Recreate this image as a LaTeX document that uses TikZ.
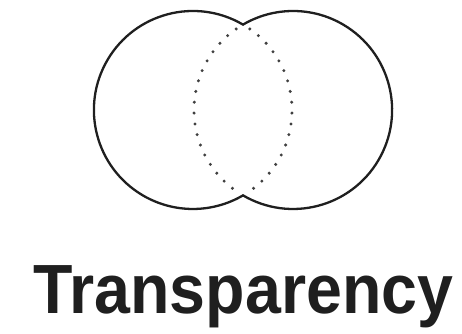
\documentclass[tikz,border=0pt]{standalone}
\usepackage{fontspec}
\setmainfont{Liberation Sans}
\begin{document}
\begin{tikzpicture}[x=1pt,y=1pt,
  outline/.style={line width=2.3pt,draw=black!88},
  lens/.style={line width=3.3pt,draw=black!75,line cap=round,dash pattern=on 0pt off 10.9pt},
  title/.style={anchor=base,inner sep=0pt,text=black!88,font=\fontsize{64.5}{70}\selectfont\bfseries}]
\useasboundingbox (0,0) rectangle (462,333);
\coordinate (cl) at (193,223);
\coordinate (cr) at (293,223);
\coordinate (top) at (243,308.4);
\coordinate (bot) at (243,137.6);
% outer outline of union
\draw[outline] (top) arc[start angle=59.6,end angle=300.4,radius=99]
  arc[start angle=239.6,end angle=480.4,radius=99] -- cycle;
% dotted lens
\draw[lens] ([shift={(55:99)}]cl) arc[start angle=55,end angle=-55,radius=99];
\draw[lens] ([shift={(125:99)}]cr) arc[start angle=125,end angle=235,radius=99];
\node[title] (t) at (243.5,20) {\scalebox{1}[1.08]{Transparency}};
\end{tikzpicture}
\end{document}
